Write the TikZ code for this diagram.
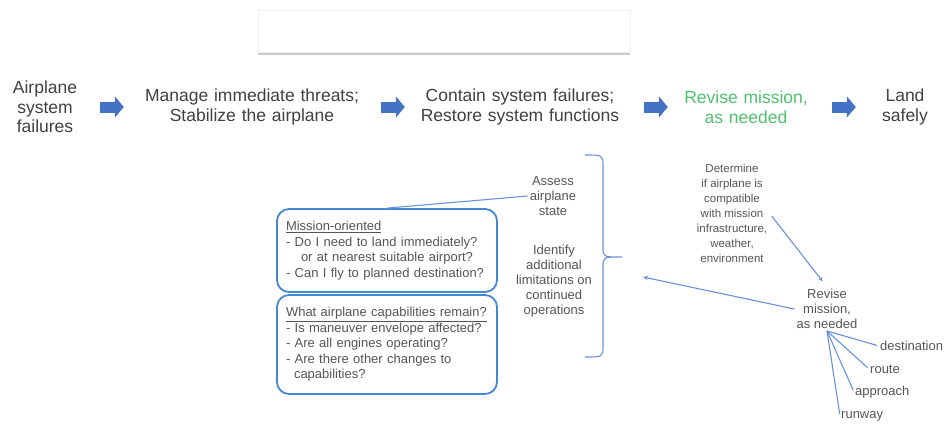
\documentclass[tikz,border=0pt]{standalone}
\usepackage{fontspec}
\setmainfont{Liberation Sans}
\usetikzlibrary{arrows.meta,shadows}

\definecolor{stepgray}{RGB}{64,64,64}
\definecolor{notegray}{RGB}{85,85,85}
\definecolor{revisegreen}{RGB}{80,192,112}
\definecolor{flowblue}{RGB}{68,114,196}
\definecolor{linkblue}{RGB}{105,145,220}
\definecolor{boxblue}{RGB}{70,135,210}

\begin{document}
\begin{tikzpicture}[x=1pt, y=-1pt,
    stage/.style={inner sep=0pt, align=center, text=stepgray, font=\fontsize{17.5}{19.5}\selectfont},
    flow/.style={flowblue, line width=11pt, -{Triangle[length=9pt,width=21pt]}},
    note/.style={inner sep=2pt, align=center, text=notegray, font=\fontsize{13}{15}\selectfont},
    qbox/.style={draw=boxblue, line width=1.8pt, rounded corners=12pt, text=notegray, align=left,
        text width=202pt, inner xsep=9pt, minimum width=220pt, font=\fontsize{13}{15.5}\selectfont},
    link/.style={linkblue, line width=1.1pt},
    pointed/.style={-{Stealth[length=5pt,width=4pt]}}]
    \useasboundingbox (0,0) rectangle (947,426);

    % Empty title box
    \node[draw=black!6, fill=white, minimum width=372pt, minimum height=42pt,
        drop shadow={shadow xshift=0pt, shadow yshift=-3pt, opacity=0.35, fill=black!60}] (banner) at (444,31) {};

    % Top row
    \node[stage, text width=70pt] (fail) at (45,107) {Airplane\\system\\failures};
    \node[stage, text width=225pt] (threat) at (252,107) {Manage immediate threats;\\Stabilize the airplane};
    \node[stage, text width=200pt] (contain) at (520,107) {Contain system failures;\\Restore system functions};
    \node[stage, text width=126pt, text=revisegreen] (revise) at (746,107) {Revise mission,\\as needed};
    \node[stage, text width=52pt] (land) at (905,107) {Land\\safely};

    \draw[flow, shorten <=20pt, shorten >=15.5pt] (fail.east) -- (threat.west);
    \draw[flow, shorten <=16.5pt, shorten >=15pt] (threat.east) -- (contain.west);
    \draw[flow, shorten <=24pt, shorten >=15pt] (contain.east) -- (revise.west);
    \draw[flow, shorten <=23pt, shorten >=23pt] (revise.east) -- (land.west);

    % Assessment notes and questions
    \node[note] (assess) at (553,196) {Assess\\airplane\\state};
    \node[note] (limits) at (554,281) {Identify\\additional\\limitations on\\continued\\operations};

    \node[qbox, minimum height=83pt] (mission) at (387,250.5) {\underline{Mission-oriented}\\- Do I need to land immediately?\\\hspace*{15pt}or at nearest suitable airport?\\- Can I fly to planned destination?};
    \node[qbox, minimum height=99pt] (capab) at (387,344.5) {\underline{What airplane capabilities remain?}\\- Is maneuver envelope affected?\\- Are all engines operating?\\- Are there other changes to\\\hspace*{8pt}capabilities?};

    \draw[link] (assess.west) -- (mission.north);

    % Bracket round the two notes
    \draw[link] (585,155) .. controls (603,155) .. (603,166) -- (603,247)
        .. controls (603,257) .. (622,257) .. controls (603,257) .. (603,267)
        -- (603,346) .. controls (603,357) .. (585,357);

    % Revise the mission
    \node[note, font=\fontsize{11.5}{15}\selectfont] (check) at (732,213) {Determine\\if airplane is\\compatible\\with mission\\infrastructure,\\weather,\\environment};
    \node[note] (rev) at (827,309) {Revise\\mission,\\as needed};
    \coordinate (back) at (643,277);

    \draw[link, pointed, shorten <=4pt, shorten >=7pt] (check.east) -- (rev.north);
    \draw[link, pointed] (rev.west) -- (back);

    % What may be revised
    \coordinate (fan) at (rev.south);
    \node[note, anchor=west, inner sep=1pt] (dest) at (879,346) {destination};
    \node[note, anchor=west, inner sep=1pt] (route) at (869,369) {route};
    \node[note, anchor=west, inner sep=1pt] (appr) at (854,392) {approach};
    \node[note, anchor=west, inner sep=1pt] (rwy) at (840,416) {runway};
    \foreach \n in {dest,route,appr,rwy}
        \draw[link, shorten >=2pt] (fan) -- (\n.west);
\end{tikzpicture}
\end{document}
